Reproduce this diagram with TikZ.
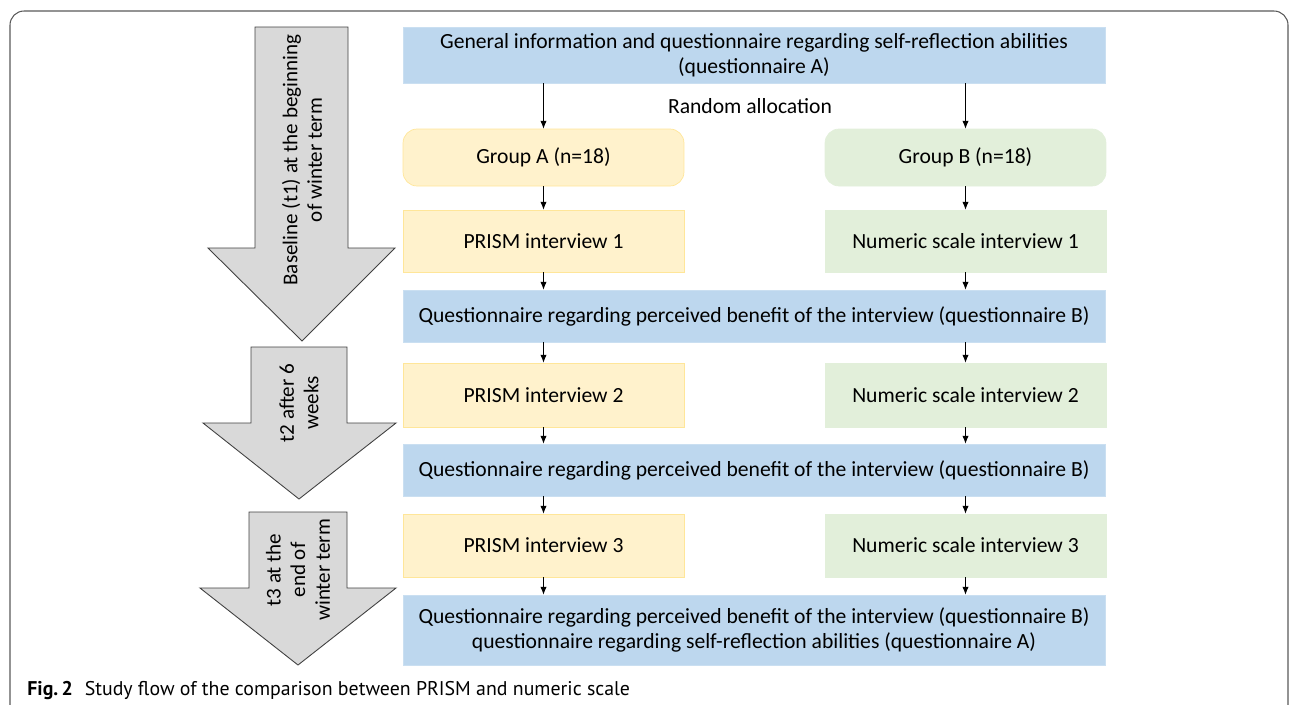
\documentclass[tikz,border=0pt]{standalone}
\usepackage{fontspec}
\setmainfont{Carlito}
\newfontfamily\capfont{PT Sans}
\usetikzlibrary{arrows.meta}
\definecolor{qblue}{HTML}{BDD7EE}
\definecolor{ayellow}{HTML}{FFF2CC}
\definecolor{ayellowline}{HTML}{FFE699}
\definecolor{bgreen}{HTML}{E2EFDA}
\definecolor{timegray}{HTML}{D9D9D9}
\tikzset{
  qbox/.style={fill=qblue, draw=qblue!80!white, minimum width=14.04cm, align=center, font=\fontsize{12.3}{14.5}\selectfont},
  abox/.style={fill=ayellow, draw=ayellowline, minimum width=5.62cm, font=\fontsize{12.3}{14.5}\selectfont},
  bbox/.style={fill=bgreen, draw=bgreen, minimum width=5.62cm, font=\fontsize{12.3}{14.5}\selectfont},
  flow/.style={-{Latex[length=4.5pt,width=3.6pt]}, thin},
  timearrow/.style={fill=timegray, draw=black!75, line width=0.5pt},
  timelabel/.style={rotate=90, align=center, font=\fontsize{12}{14}\selectfont}
}
\begin{document}
\begin{tikzpicture}[x=0.02cm, y=-0.02cm]
  \useasboundingbox (0,0) rectangle (1290,704);
  % frame
  \draw[black!65, line width=0.6pt, rounded corners=8pt] (10,720) -- (10,11) -- (1288,11) -- (1288,720);
  % time arrows
  \draw[timearrow] (255,27) -- (348,27) -- (348,248) -- (395,248) -- (302,341) -- (208,248) -- (255,248) -- cycle;
  \draw[timearrow] (251,347) -- (347,347) -- (347,423) -- (396,423) -- (299,499) -- (203,423) -- (251,423) -- cycle;
  \draw[timearrow] (249,512) -- (347,512) -- (347,588) -- (396,588) -- (298,665) -- (200,588) -- (249,588) -- cycle;
  \node[timelabel] (t1) at (302,160) {Baseline (t1) at the beginning\\of winter term};
  \node[timelabel] (t2) at (299,403) {t2 after 6\\weeks};
  \node[timelabel] (t3) at (298,570) {t3 at the\\end of\\winter term};
  % flow boxes
  \node[qbox, minimum height=1.12cm] (qa0) at (754,55) {General information and questionnaire regarding self-reflection abilities\\(questionnaire A)};
  \node[font=\fontsize{12.3}{14.5}\selectfont] (rand) at (750,106) {Random allocation};
  \node[abox, rounded corners=8pt, minimum height=1.14cm] (ga) at (543.5,157.5) {Group A (n=18)};
  \node[bbox, rounded corners=8pt, minimum height=1.14cm] (gb) at (965.5,157.5) {Group B (n=18)};
  \node[abox, minimum height=1.24cm] (pa1) at (543.5,241) {PRISM interview 1};
  \node[bbox, minimum height=1.24cm] (nb1) at (965.5,241) {Numeric scale interview 1};
  \node[qbox, minimum height=1.04cm] (qb1) at (754,316) {Questionnaire regarding perceived benefit of the interview (questionnaire B)};
  \node[abox, minimum height=1.28cm] (pa2) at (543.5,395) {PRISM interview 2};
  \node[bbox, minimum height=1.28cm] (nb2) at (965.5,395) {Numeric scale interview 2};
  \node[qbox, minimum height=1.04cm] (qb2) at (754,470) {Questionnaire regarding perceived benefit of the interview (questionnaire B)};
  \node[abox, minimum height=1.26cm] (pa3) at (543.5,545.5) {PRISM interview 3};
  \node[bbox, minimum height=1.26cm] (nb3) at (965.5,545.5) {Numeric scale interview 3};
  \node[qbox, minimum height=1.4cm] (qb3) at (754,630) {Questionnaire regarding perceived benefit of the interview (questionnaire B)\\questionnaire regarding self-reflection abilities (questionnaire A)};
  % connectors
  \draw[flow] (qa0.south -| ga.north) -- (ga.north);
  \draw[flow] (qa0.south -| gb.north) -- (gb.north);
  \draw[flow] (ga) -- (pa1);
  \draw[flow] (gb) -- (nb1);
  \draw[flow] (pa1.south) -- (pa1.south |- qb1.north);
  \draw[flow] (nb1.south) -- (nb1.south |- qb1.north);
  \draw[flow] (qb1.south -| pa2.north) -- (pa2.north);
  \draw[flow] (qb1.south -| nb2.north) -- (nb2.north);
  \draw[flow] (pa2.south) -- (pa2.south |- qb2.north);
  \draw[flow] (nb2.south) -- (nb2.south |- qb2.north);
  \draw[flow] (qb2.south -| pa3.north) -- (pa3.north);
  \draw[flow] (qb2.south -| nb3.north) -- (nb3.north);
  \draw[flow] (pa3.south) -- (pa3.south |- qb3.north);
  \draw[flow] (nb3.south) -- (nb3.south |- qb3.north);
  % caption
  \node[anchor=west, inner sep=0pt, font=\capfont\fontsize{11.3}{13}\selectfont] (cap) at (27,690) {\textbf{Fig.\,2}\hspace{0.6em}Study flow of the comparison between PRISM and numeric scale};
\end{tikzpicture}
\end{document}
